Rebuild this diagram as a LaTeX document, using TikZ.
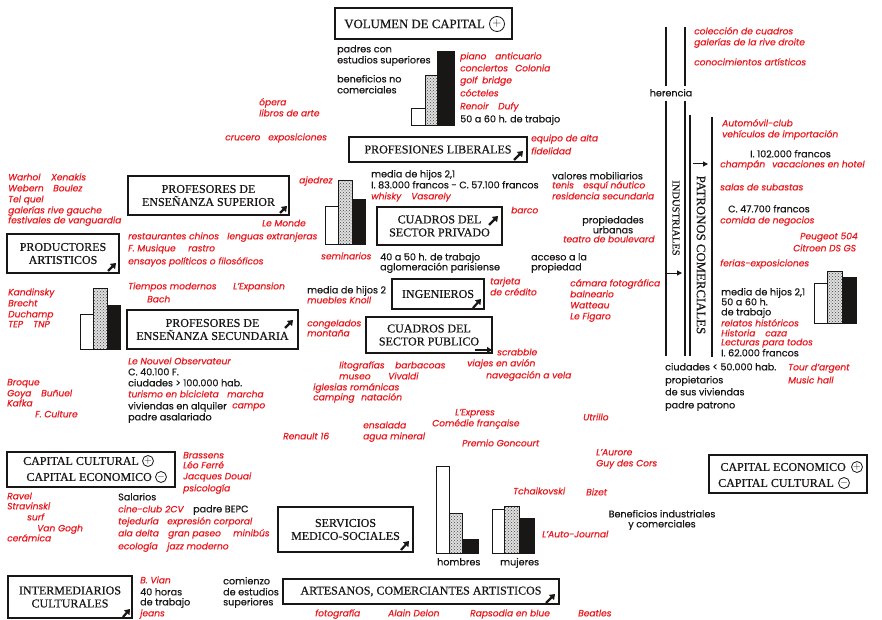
\documentclass[tikz,border=0pt]{standalone}
\usepackage{fontspec}
\setmainfont[FakeBold=0.6]{Liberation Serif}
\newfontfamily\geo[FakeBold=0.5]{Poppins}
\usetikzlibrary{patterns,arrows.meta}
\definecolor{rojo}{RGB}{232,24,30}
\definecolor{tinta}{RGB}{25,22,22}
\newcommand\txtsize{\fontsize{9.6}{11}\selectfont}
\newcommand\rdsize{\fontsize{9.1}{11}\selectfont}
\begin{document}
\begin{tikzpicture}[x=1pt,y=-1pt,
  lbl/.style={anchor=west,inner sep=0pt,text height=6.6pt,text depth=1.9pt,text=tinta,font=\geo\txtsize},
  rd/.style={lbl,text=rojo,font=\geo\itshape\rdsize},
  ctr/.style={lbl,anchor=center},
  box/.style={draw=tinta,line width=1.4pt,inner sep=0pt,font=\fontsize{12}{13}\selectfont,align=center,text=tinta},
  captxt/.style={anchor=east,inner sep=0pt,font=\fontsize{12}{13}\selectfont,text=tinta},
  sign/.style={circle,draw=tinta,line width=0.8pt,inner sep=0pt,minimum size=11pt,font=\fontsize{10}{10}\selectfont,text=tinta},
  icon/.style={line width=2.2pt,tinta,-{Triangle[length=5pt,width=7pt]}},
  bw/.style={draw=tinta,line width=0.8pt,fill=white},
  bs/.style={draw=tinta,line width=0.8pt,preaction={fill=gray!25},pattern=crosshatch dots,pattern color=tinta!80},
  bb/.style={draw=tinta,line width=0.8pt,fill=tinta},
  rail/.style={tinta,line width=1.1pt},
  railtxt/.style={rotate=-90,inner sep=0pt,font=\fontsize{10.5}{12}\selectfont,text=tinta},
  tip/.style={tinta,line width=1pt,-{Triangle[length=5pt,width=5pt]}}
]
\useasboundingbox (0,0) rectangle (882,620);
\fill[white] (0,0) rectangle (882,620);

% ---------- boxes ----------
\node[box,line width=2pt,minimum width=177pt,minimum height=31pt] (vol) at (423.5,23.5) {};
\node[captxt,font=\fontsize{12.8}{13}\selectfont] (voltxt) at (485,24) {VOLUMEN DE CAPITAL};
\node[sign,minimum size=15pt,font=\fontsize{13}{13}\selectfont] (volsign) at (497,24) {$+$};

\node[box,minimum width=178pt,minimum height=25pt] (plib) at (438,149.5) {PROFESIONES LIBERALES};
\node[box,minimum width=161pt,minimum height=39pt] (psup) at (208.5,195.5) {PROFESORES DE\\ENSEÑANZA SUPERIOR};
\node[box,minimum width=112pt,minimum height=39pt] (prod) at (63,253.5) {PRODUCTORES\\ARTISTICOS};
\node[box,minimum width=125pt,minimum height=38pt] (cpriv) at (439.5,226) {CUADROS DEL\\SECTOR PRIVADO};
\node[box,minimum width=92pt,minimum height=30pt] (ing) at (438,294) {INGENIEROS};
\node[box,minimum width=171pt,minimum height=39pt] (psec) at (212.5,329.5) {PROFESORES DE\\ENSEÑANZA SECUNDARIA};
\node[box,minimum width=126pt,minimum height=36pt] (cpub) at (429,335) {CUADROS DEL\\SECTOR PUBLICO};
\node[box,minimum width=135pt,minimum height=45pt] (serv) at (345.5,529.5) {SERVICIOS\\MEDICO-SOCIALES};
\node[box,minimum width=276pt,minimum height=25pt] (arte) at (421,591.5) {ARTESANOS, COMERCIANTES ARTISTICOS};
\node[box,minimum width=124pt,minimum height=42pt] (inter) at (70,597) {INTERMEDIARIOS\\CULTURALES};

\node[box,minimum width=168pt,minimum height=35pt] (capl) at (91,469.5) {};
\node[captxt] (capl1) at (139,461) {CAPITAL CULTURAL};
\node[sign] (capl1s) at (148,461) {$+$};
\node[captxt] (capl2) at (152,477) {CAPITAL ECONOMICO};
\node[sign] (capl2s) at (161,477) {$-$};

\node[box,minimum width=158pt,minimum height=38pt] (capr) at (788,474) {};
\node[captxt] (capr1) at (846,467) {CAPITAL ECONOMICO};
\node[sign] (capr1s) at (857,467) {$+$};
\node[captxt] (capr2) at (834,483) {CAPITAL CULTURAL};
\node[sign] (capr2s) at (844,483) {$-$};

% ---------- trend icons ----------
\draw[icon] (514,160) -- (523,151);
\draw[icon] (280,213) -- (287,206);
\draw[icon] (108,271) -- (116,263);
\draw[icon] (489,225) -- (498,216);
\draw[icon] (473,308) -- (481,299);
\draw[icon] (285,328) -- (293,320);
\draw[tinta,line width=1.6pt,-{Triangle[length=5pt,width=6pt]}] (475,350) -- (492,350);
\draw[icon] (401,550) -- (409,541);
\draw[icon] (546,603) -- (555,594);
\draw[icon] (123,617) -- (130,609);

% ---------- rails on the right ----------
\node[ctr] (her) at (671,94) {herencia};
\draw[rail] (666,27) -- (666,86) (666,101) -- (666,356);
\draw[rail] (685,27) -- (685,86) (685,101) -- (685,356);
\draw[rail] (690,115) -- (690,356);
\draw[rail] (712,117) -- (712,357);
\node[railtxt] (ind) at (676,218) {INDUSTRIALES};
\node[railtxt,font=\fontsize{12.8}{13}\selectfont] (pat) at (701,255) {PATRONOS COMERCIALES};
\draw[tip] (693,164) -- (708,164);
\draw[tip] (667,273) -- (682,273);

% ---------- bar charts ----------
\draw[bw] (411,125) rectangle (425,108);
\draw[bs] (425,125) rectangle (437,75);
\draw[bb] (437,125) rectangle (454,51);

\draw[bw] (325,244) rectangle (338,206);
\draw[bs] (338,244) rectangle (352,180);
\draw[bb] (352,244) rectangle (365,199);

\draw[bw] (80,349) rectangle (93,314);
\draw[bs] (93,349) rectangle (107,288);
\draw[bb] (107,349) rectangle (120,305);

\draw[bw] (814,323) rectangle (827,283);
\draw[bs] (827,323) rectangle (842,271);
\draw[bb] (842,323) rectangle (856,277);

\draw[bw] (436,553) rectangle (449,466);
\draw[bs] (449,553) rectangle (462,513);
\draw[bb] (462,553) rectangle (478,539);

\draw[bw] (492,553) rectangle (504,509);
\draw[bs] (504,553) rectangle (519,506);
\draw[bb] (519,553) rectangle (534,518);

% ---------- black labels ----------
\foreach \px/\py/\tx [count=\i] in {
  337/50/padres con, 337/61/estudios superiores, 337/80/beneficios no, 337/91/comerciales,
  460/120/50 a 60 h. de trabajo,
  371/175/{media de hijos 2,1}, 371/186/I. 83.000 francos - C. 57.100 francos,
  552/177/valores mobiliarios,
  380/258/40 a 50 h. de trabajo, 380/268/aglomeración parisiense,
  531/258/acceso a la, 531/268/propiedad,
  307/291/media de hijos 2,
  750/155/I. 102.000 francos, 728/210/C. 47.700 francos,
  721/293/{media de hijos 2,1}, 721/303/50 a 60 h., 721/313/de trabajo, 721/354/I. 62.000 francos,
  665/368/ciudades < 50.000 hab., 665/381/propietarios, 665/393/de sus viviendas, 665/406/padre patrono,
  128/373/C. 40.100 F., 128/384/ciudades > 100.000 hab., 128/407/viviendas en alquiler, 128/418/padre asalariado,
  118/498/Salarios, 193/510/padre BEPC,
  140/593/40 horas, 140/603/de trabajo,
  223/582/comienzo, 223/593/de estudios, 223/603/superiores,
  437/563/hombres, 500/563/mujeres}
  \node[lbl] (b\i) at (\px,\py) {\tx};

\foreach \px/\py/\tx [count=\i] in {
  613/221/propiedades, 613/231/urbanas,
  662/515/Beneficios industriales, 662/525/y comerciales}
  \node[ctr] (c\i) at (\px,\py) {\tx};

% ---------- red labels ----------
\foreach \px/\py/\tx [count=\i] in {
  259/103/ópera, 259/114/libros de arte, 225/138/crucero, 268/138/exposiciones,
  460/57/piano, 495/57/anticuario, 460/69/conciertos, 515/69/Colonia,
  460/81/golf, 482/81/bridge, 460/94/cócteles, 460/107/Renoir, 498/107/Dufy,
  531/139/equipo de alta, 531/152/fidelidad,
  694/32/colección de cuadros, 694/43/galerías de la rive droite, 694/63/conocimientos artísticos,
  722/124/Automóvil-club, 722/135/vehículos de importación,
  720/165/champán, 772/165/vacaciones en hotel, 720/188/salas de subastas,
  720/221/comida de negocios, 800/237/Peugeot 504, 793/249/Citroen DS GS,
  720/264/ferias-exposiciones,
  721/324/relatos históricos, 721/334/Historia, 765/334/caza, 721/343/Lecturas para todos,
  788/368/Tour d’argent, 788/381/Music hall,
  299/181/ajedrez, 371/197/whisky, 411/197/Vasarely,
  552/186/tenis, 583/186/esquí náutico, 552/197/residencia secundaria,
  511/211/barco, 563/240/teatro de boulevard, 321/257/seminarios,
  490/282/tarjeta, 490/293/de crédito,
  570/284/cámara fotográfica, 570/295/balneario, 570/306/Watteau, 570/317/Le Figaro,
  307/301/muebles Knoll, 262/224/Le Monde,
  128/237/restaurantes chinos, 227/237/lenguas extranjeras,
  128/249/F. Musique, 188/249/rastro, 128/262/ensayos políticos o filosóficos,
  128/287/Tiempos modernos, 233/287/L’Expansion, 147/300/Bach,
  8/178/Warhol, 51/178/Xenakis, 8/189/Webern, 53/189/Boulez, 8/200/Tel quel,
  8/211/galerías rive gauche, 8/221/festivales de vanguardia,
  8/293/Kandinsky, 8/304/Brecht, 8/315/Duchamp, 8/325/TEP, 33/325/TNP,
  128/362/Le Nouvel Observateur, 128/395/turismo en bicicleta, 227/395/marcha, 232/406/campo,
  7/383/Broque, 7/394/Goya, 41/394/Buñuel, 7/404/Kafka, 35/415/F. Culture,
  307/324/congelados, 307/334/montaña,
  497/353/scrabble, 467/364/viajes en avión, 486/376/navegación a vela,
  339/366/litografías, 395/366/barbacoas, 339/377/museo, 388/377/Vivaldi,
  313/388/iglesias románicas, 313/398/camping, 361/398/natación,
  455/413/L’Express, 432/424/Comédie française, 363/426/ensalada, 363/437/agua mineral,
  462/444/Premio Goncourt, 283/437/Renault 16, 583/418/Utrillo,
  596/453/L’Aurore, 596/464/Guy des Cors, 586/493/Bizet, 513/492/Tchaikovski,
  542/535/L’Auto-Journal,
  315/614/fotografía, 388/614/Alain Delon, 470/614/Rapsodia en blue, 578/614/Beatles,
  183/456/Brassens, 183/466/Léo Ferré, 183/477/Jacques Douai, 183/489/psicología,
  7/497/Ravel, 7/507/Stravinski, 27/518/surf, 37/529/Van Gogh, 7/539/cerámica,
  118/510/cine-club, 165/510/2CV, 118/522/tejeduría, 167/522/expresión corporal,
  118/534/ala delta, 168/534/gran paseo, 233/534/minibús,
  118/547/ecología, 167/547/jazz moderno,
  140/581/B. Vian, 140/614/jeans}
  \node[rd] (r\i) at (\px,\py) {\tx};
\end{tikzpicture}
\end{document}
